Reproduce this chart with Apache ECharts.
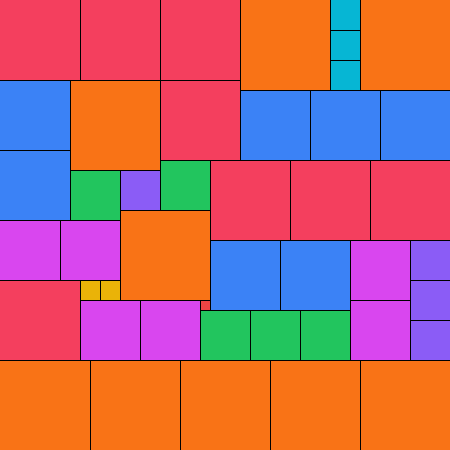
<!DOCTYPE html>
<html>
<head>
<meta charset="utf-8">
<script src="https://cdn.jsdelivr.net/npm/echarts@6/dist/echarts.min.js"></script>
<style>html,body{margin:0;padding:0;background:#fff}#main{width:450px;height:450px}</style>
</head>
<body>
<div id="main"></div>
<script>
// Partridge tiling: square side (in units), left x, top y
const sideOf = [9,9,9,9,9,9,9,9,9, 8,8,8,8,8,8,8,8, 7,7,7,7,7,7,7, 6,6,6,6,6,6, 5,5,5,5,5, 4,4,4,4, 3,3,3, 2,2, 1];
const leftOf = [24,36,7,12,0,9,18,27,36, 0,8,16,16,21,29,37,0, 0,0,24,31,38,21,28, 0,6,8,14,35,35, 7,16,20,25,30, 12,41,41,41, 33,33,33, 8,10, 20];
const topOf  = [0,0,8,21,36,36,36,36,36, 0,0,0,8,16,16,16,28, 8,15,9,9,9,24,24, 22,22,30,30,24,30, 17,16,31,31,31, 17,24,28,32, 0,3,6, 28,28, 30];
const total = 45;
const palette = {9:'#f97316',8:'#f43f5e',7:'#3b82f6',6:'#d946ef',5:'#22c55e',4:'#8b5cf6',3:'#06b6d4',2:'#eab308',1:'#ef4444'};

const data = sideOf.map((s,i)=>[leftOf[i], topOf[i], s]);

const chart = echarts.init(document.getElementById('main'), null, {renderer:'canvas'});
chart.setOption({
  animation:false,
  grid:{left:0,right:0,top:0,bottom:0},
  xAxis:{type:'value',min:0,max:total,show:false},
  yAxis:{type:'value',min:0,max:total,inverse:true,show:false},
  series:[{
    type:'custom',
    data:data,
    encode:{x:0,y:1},
    renderItem:function(params, api){
      const x=api.value(0), y=api.value(1), s=api.value(2);
      const p0=api.coord([x,y]), p1=api.coord([x+s,y+s]);
      const x0=Math.round(p0[0]), y0=Math.round(p0[1]), x1=Math.round(p1[0]), y1=Math.round(p1[1]);
      const children=[{type:'rect',shape:{x:x0,y:y0,width:x1-x0,height:y1-y0},style:{fill:palette[s]}}];
      if(x>0) children.push({type:'line',shape:{x1:x0+0.5,y1:y0,x2:x0+0.5,y2:y1},style:{stroke:'#000',lineWidth:1}});
      if(y>0) children.push({type:'line',shape:{x1:x0,y1:y0+0.5,x2:x1,y2:y0+0.5},style:{stroke:'#000',lineWidth:1}});
      return {type:'group',children:children};
    }
  }]
});
</script>
</body>
</html>
